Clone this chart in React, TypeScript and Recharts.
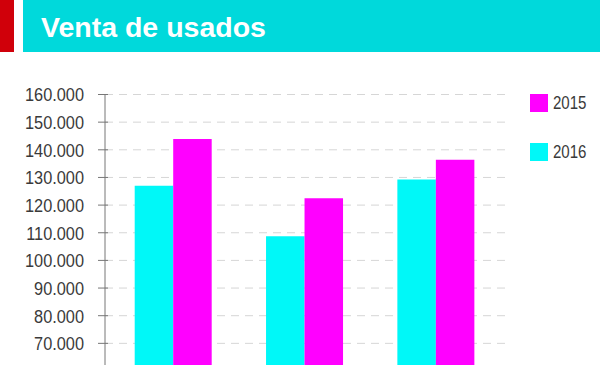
import React from "react";
import { BarChart, Bar, XAxis, YAxis, CartesianGrid } from "recharts";

const categories = ["A", "B", "C"];
const ventas2016 = [127000, 108700, 129300];
const ventas2015 = [143900, 122500, 136400];
const yTicks = [60000, 70000, 80000, 90000, 100000, 110000, 120000, 130000, 140000, 150000, 160000];

const data = categories.map((name, i) => ({
  name,
  v2016: ventas2016[i],
  v2015: ventas2015[i],
}));

const FONT = "'Liberation Sans', Arial, sans-serif";
const CYAN = "#00F8F8";
const MAGENTA = "#FF00FF";

const fmt = (v: number) => String(v).replace(/\B(?=(\d{3})+(?!\d))/g, ".");

// tick crosses the axis line, label right-aligned and squeezed a bit (condensed look)
const YTick = (props: any) => {
  const { y, payload } = props;
  return (
    <g>
      <line x1={98} x2={108} y1={y} y2={y} stroke="#777" strokeWidth={1} />
      <text
        transform={`translate(84 ${y}) scale(0.86 1)`}
        dy="0.36em"
        textAnchor="end"
        fill="#3a3a3a"
        fontSize={19}
        fontFamily={FONT}
      >
        {fmt(payload.value)}
      </text>
    </g>
  );
};

export default function App() {
  return (
    <div
      style={{
        position: "absolute",
        left: 0,
        top: 0,
        width: 600,
        height: 365,
        overflow: "hidden",
        background: "#fff",
      }}
    >
      {/* header */}
      <div style={{ position: "absolute", left: 0, top: 0, width: 14, height: 52, background: "#D0000A" }} />
      <div style={{ position: "absolute", left: 23, top: 0, width: 577, height: 52, background: "#00D9DB" }} />
      <div
        style={{
          position: "absolute",
          left: 41,
          top: 11,
          color: "#fff",
          fontFamily: FONT,
          fontWeight: 700,
          fontSize: 28.5,
          lineHeight: "32px",
          whiteSpace: "nowrap",
        }}
      >
        Venta de usados
      </div>

      <div style={{ position: "absolute", left: 0, top: 0 }}>
        <BarChart
          width={600}
          height={411}
          data={data}
          margin={{ top: 94.5, right: 92, bottom: 10, left: 0 }}
          barGap={0}
          barSize={38.5}
        >
          <CartesianGrid
            vertical={false}
            stroke="#d6d6d6"
            strokeDasharray="8 6"
          />
          <XAxis
            dataKey="name"
            height={30}
            padding={{ left: 2.7, right: 6.3 }}
            axisLine={false}
            tickLine={false}
            tick={false}
          />
          <YAxis
            width={105}
            domain={[60000, 160000]}
            ticks={yTicks}
            interval={0}
            axisLine={{ stroke: "#777", strokeWidth: 1 }}
            tickLine={false}
            tick={<YTick />}
          />
          <Bar dataKey="v2016" fill={CYAN} isAnimationActive={false} />
          <Bar dataKey="v2015" fill={MAGENTA} isAnimationActive={false} />
        </BarChart>
      </div>

      {/* legend */}
      {[
        { label: "2015", color: MAGENTA, top: 94 },
        { label: "2016", color: CYAN, top: 142.5 },
      ].map((item) => (
        <div
          key={item.label}
          style={{ position: "absolute", left: 530, top: item.top, display: "flex", alignItems: "center" }}
        >
          <div style={{ width: 18, height: 18, background: item.color }} />
          <span
            style={{
              marginLeft: 5,
              fontFamily: FONT,
              fontSize: 17.5,
              color: "#3a3a3a",
              lineHeight: "18px",
              display: "inline-block",
              transform: "scaleX(0.86)",
              transformOrigin: "left center",
            }}
          >
            {item.label}
          </span>
        </div>
      ))}
    </div>
  );
}
